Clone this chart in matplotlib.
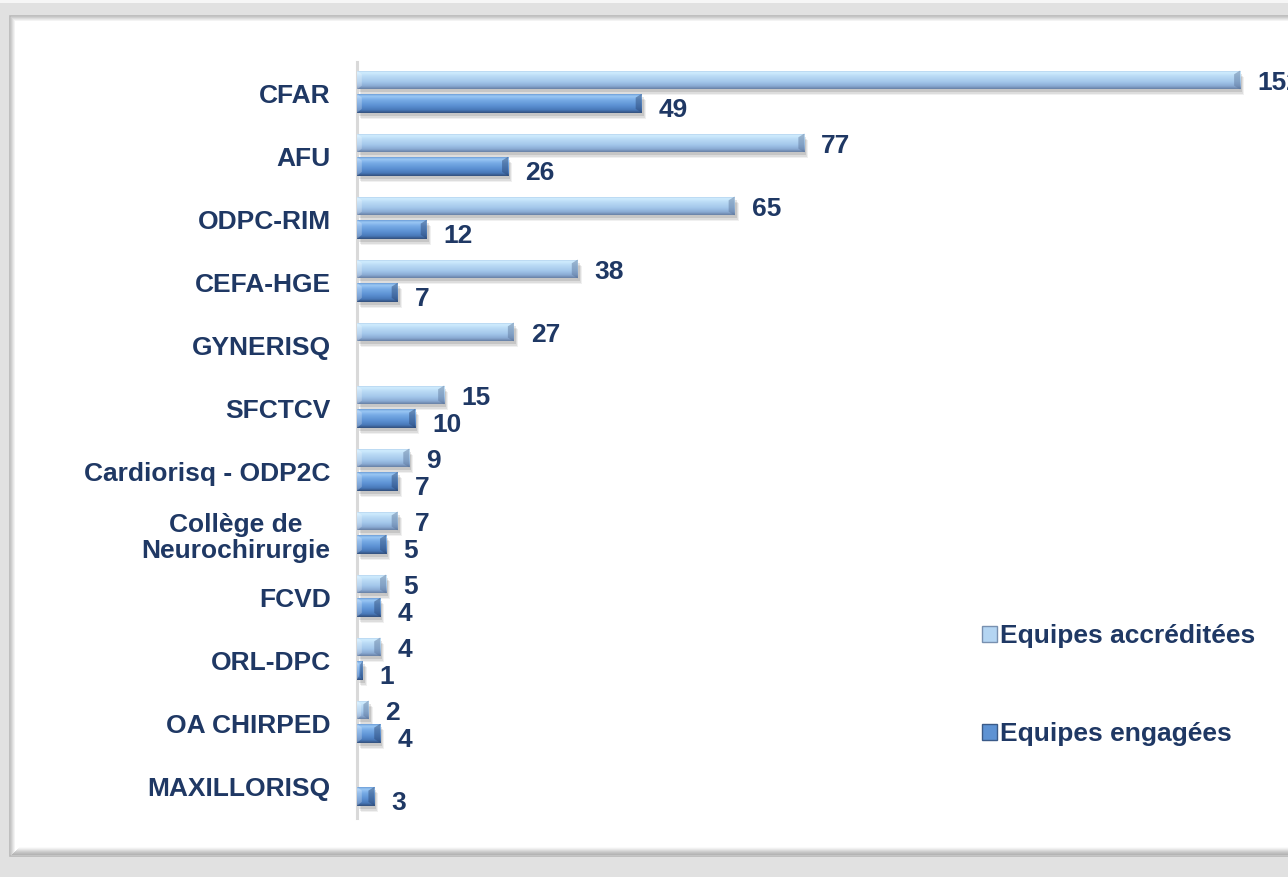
import matplotlib
matplotlib.use('Agg')
import matplotlib.pyplot as plt
import numpy as np
from matplotlib.patches import Rectangle, Polygon, Patch
from matplotlib.colors import LinearSegmentedColormap
import matplotlib.transforms as mtransforms

# ---------------- data ----------------
categories = ["CFAR", "AFU", "ODPC-RIM", "CEFA-HGE", "GYNERISQ", "SFCTCV",
              "Cardiorisq - ODP2C", "Collège de\nNeurochirurgie", "FCVD",
              "ORL-DPC", "OA CHIRPED", "MAXILLORISQ"]
accreditees = [152, 77, 65, 38, 27, 15, 9, 7, 5, 4, 2, None]
engagees = [49, 26, 12, 7, None, 10, 7, 5, 4, 1, 4, 3]
series_names = ["Equipes accréditées", "Equipes engagées"]

# ---------------- style ----------------
W, H, DPI = 1288, 877, 100
TXT = '#1f3864'
FONT = 'Liberation Sans'
FS = 19

plt.rcParams['font.family'] = [FONT, 'DejaVu Sans']

cmap_acc = LinearSegmentedColormap.from_list(
    'acc', [(0.0, '#93b3da'), (0.10, '#d2eeff'), (0.30, '#bcdcf6'),
            (0.62, '#a3c7ea'), (0.85, '#8aabd4'), (1.0, '#667fa3')])
cmap_eng = LinearSegmentedColormap.from_list(
    'eng', [(0.0, '#6a9bd6'), (0.10, '#9cc9f5'), (0.30, '#78ace6'),
            (0.62, '#5b90d2'), (0.85, '#4878b8'), (1.0, '#324e7a')])

fig = plt.figure(figsize=(W / DPI, H / DPI), dpi=DPI, facecolor='#e1e1e1')

# ---------------- background frame (pixel coordinates) ----------------
bg = fig.add_axes([0, 0, 1, 1], zorder=-5)
bg.set_xlim(0, W)
bg.set_ylim(H, 0)
bg.axis('off')
bg.add_patch(Rectangle((0, 0), W, 3, color='#f6f6f6', lw=0))
bg.add_patch(Rectangle((10, 16), W + 20, 840, facecolor='white',
                       edgecolor='#b9b9b9', lw=1.2))
# inset bevel
for i, c in enumerate(['#cfcfcf', '#dcdcdc', '#e8e8e8', '#f3f3f3']):
    bg.add_patch(Rectangle((11 + i, 17 + i), 1, 838 - 2 * i, color=c, lw=0))
    bg.add_patch(Rectangle((11 + i, 17 + i), W, 1, color=c, lw=0))
for i, c in enumerate(['#fafafa', '#f1f1f1', '#e6e6e6', '#dadada',
                       '#cecece', '#c4c4c4', '#bcbcbc', '#b4b4b4']):
    bg.add_patch(Rectangle((12 + (7 - i), 847 + i), W, 1, color=c, lw=0))

# ---------------- main axes ----------------
ax_left_px, ax_top_px, ax_bot_px = 357, 62, 818
ax = fig.add_axes([ax_left_px / W, 1 - ax_bot_px / H,
                   1 - ax_left_px / W, (ax_bot_px - ax_top_px) / H])
ax.set_facecolor('none')
px_per_unit = 5.81
xmax = (W - ax_left_px) / px_per_unit
n = len(categories)

y = np.arange(n)
bh = 0.30
off_acc, off_eng = -0.215, 0.155

def draw_series(values, offset, cmap, edge_dark):
    idx = [i for i, v in enumerate(values) if v is not None]
    vals = [values[i] for i in idx]
    ys = y[idx] + offset
    bars = ax.barh(ys, vals, height=bh, color=cmap(0.5), lw=0, zorder=2)
    for p in bars.patches:
        x0, y0 = p.get_x(), p.get_y()
        w, h = p.get_width(), p.get_height()
        # soft shadow
        for dx, dy, a in [(2, -3, 0.10), (3, -5, 0.08), (4, -6, 0.06)]:
            tr = ax.transData + mtransforms.ScaledTranslation(
                dx / DPI, dy / DPI, fig.dpi_scale_trans)
            ax.add_patch(Rectangle((x0, y0), w, h, transform=tr,
                                   color='black', alpha=a, lw=0, zorder=1.5))
        grad = np.linspace(0, 1, 64).reshape(-1, 1)
        im = ax.imshow(grad, cmap=cmap, extent=(x0, x0 + w, y0 + h, y0),
                       aspect='auto', interpolation='bicubic', origin='upper',
                       zorder=3)
        im.set_clip_path(p)
        # bevelled ends
        e = min(6 / px_per_unit, w * 0.45)
        ax.add_patch(Polygon([(x0 + w - e, y0 + h * 0.2), (x0 + w, y0),
                              (x0 + w, y0 + h), (x0 + w - e, y0 + h * 0.8)],
                             closed=True, color=edge_dark, alpha=0.45,
                             lw=0, zorder=4))
        ax.add_patch(Polygon([(x0, y0), (x0 + e * 0.8, y0 + h * 0.2),
                              (x0 + e * 0.8, y0 + h * 0.8), (x0, y0 + h)],
                             closed=True, color='white', alpha=0.25,
                             lw=0, zorder=4))
    return idx, vals, ys

ia, va_, ya = draw_series(accreditees, off_acc, cmap_acc, '#5a7398')
ie, ve, ye = draw_series(engagees, off_eng, cmap_eng, '#2a4470')

def label(vals, ys, dy_px):
    for v, yy in zip(vals, ys):
        ax.annotate(str(v), xy=(v, yy), xytext=(17, -(dy_px + 9.5)),
                    textcoords='offset pixels', ha='left', va='baseline',
                    fontsize=FS, fontweight='bold', color=TXT,
                    annotation_clip=False, zorder=6)

label(va_, ya, 1)
label(ve, ye, 4)

ax.set_xlim(0, xmax)
ax.set_ylim(n - 0.5, -0.5)
ax.set_yticks(y)
ax.set_yticklabels(categories, fontsize=FS, fontweight='bold', color=TXT,
                   linespacing=1.1, multialignment='center')
ax.tick_params(axis='y', length=0, pad=19)
ax.set_xticks([])
for s in ['top', 'right', 'bottom']:
    ax.spines[s].set_visible(False)
ax.spines['left'].set_color('#d9d9d9')
ax.spines['left'].set_linewidth(2.2)

# ---------------- legend ----------------
handles = [Patch(facecolor=cmap_acc(0.4), edgecolor='#7890b0', lw=1),
           Patch(facecolor=cmap_eng(0.6), edgecolor='#3a5a88', lw=1)]
leg = fig.legend(handles, series_names, loc='upper left',
                 bbox_to_anchor=(982 / W, 1 - 624 / H), frameon=False,
                 prop={'family': FONT, 'weight': 'bold', 'size': FS},
                 labelcolor=TXT, handlelength=0.55, handleheight=0.55,
                 handletextpad=0.15, labelspacing=2.8, borderaxespad=0,
                 borderpad=0)

fig.savefig('out.png', dpi=DPI, facecolor=fig.get_facecolor())
